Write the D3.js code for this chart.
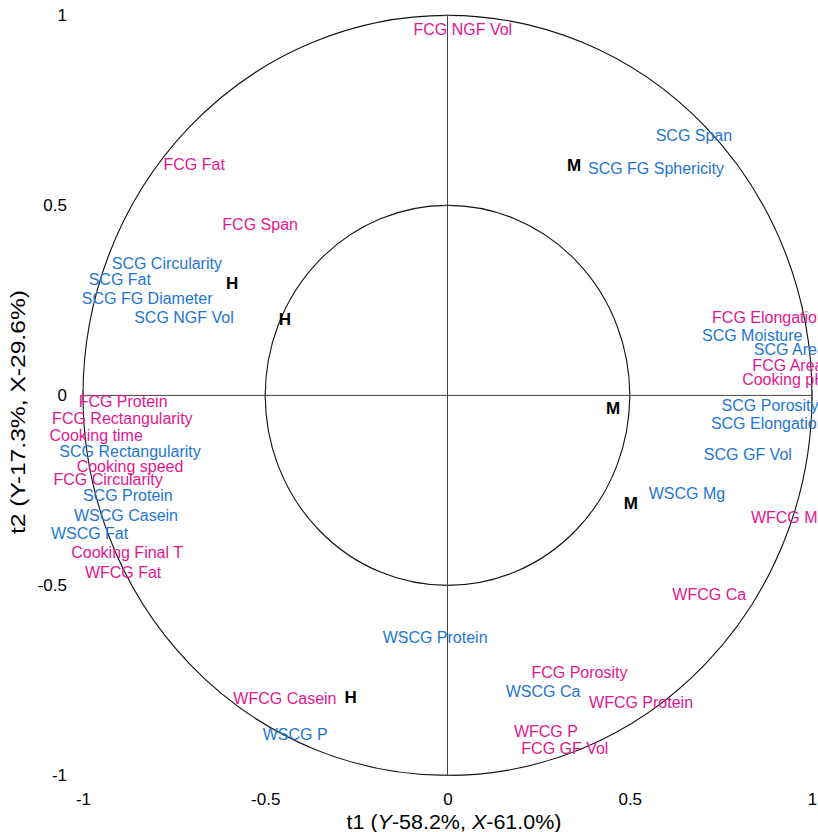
<!DOCTYPE html>
<html>
<head>
<meta charset="utf-8">
<script src="https://cdn.jsdelivr.net/npm/d3@7"></script>
<style>
  html, body { margin: 0; padding: 0; background: #fff; }
  svg { display: block; font-family: "Liberation Sans", Arial, sans-serif; }
</style>
</head>
<body>
<svg id="chart" width="818" height="832"></svg>
<script>
// Correlation circle: variables (t1, t2 loadings) and observations
const varNames = [
  "FCG NGF Vol", "SCG Span", "SCG FG Sphericity", "FCG Fat", "FCG Span",
  "SCG Circularity", "SCG Fat", "SCG FG Diameter", "SCG NGF Vol",
  "FCG Elongation", "SCG Moisture", "SCG Area", "FCG Area", "Cooking pH",
  "SCG Porosity", "SCG Elongation", "SCG GF Vol", "WSCG Mg", "WFCG Mg",
  "WFCG Ca", "WSCG Protein", "FCG Porosity", "WSCG Ca", "WFCG Protein",
  "WFCG P", "FCG GF Vol", "WFCG Casein", "WSCG P",
  "FCG Protein", "FCG Rectangularity", "Cooking time", "SCG Rectangularity",
  "Cooking speed", "FCG Circularity", "SCG Protein", "WSCG Casein",
  "WSCG Fat", "Cooking Final T", "WFCG Fat"
];
const varT1 = [
  0.042, 0.676, 0.572, -0.695, -0.514,
  -0.770, -0.899, -0.824, -0.723,
  0.882, 0.836, 0.939, 0.934, 0.923,
  0.885, 0.880, 0.824, 0.657, 0.936,
  0.718, -0.034, 0.362, 0.262, 0.531,
  0.270, 0.322, -0.446, -0.418,
  -0.890, -0.892, -0.964, -0.871,
  -0.871, -0.931, -0.877, -0.882,
  -0.982, -0.879, -0.890
];
const varT2 = [
  0.962, 0.683, 0.598, 0.609, 0.451,
  0.348, 0.306, 0.254, 0.204,
  0.204, 0.159, 0.120, 0.078, 0.043,
  -0.025, -0.073, -0.154, -0.257, -0.320,
  -0.523, -0.636, -0.730, -0.780, -0.807,
  -0.883, -0.928, -0.797, -0.891,
  -0.015, -0.060, -0.105, -0.147,
  -0.186, -0.220, -0.262, -0.315,
  -0.362, -0.412, -0.465
];
// "F" = FCG / WFCG / cooking variables, "S" = SCG / WSCG variables
const varGroup = [
  "F", "S", "S", "F", "F",
  "S", "S", "S", "S",
  "F", "S", "S", "F", "F",
  "S", "S", "S", "S", "F",
  "F", "S", "F", "S", "F",
  "F", "F", "F", "S",
  "F", "F", "F", "S",
  "F", "F", "S", "S",
  "S", "F", "F"
];

const obsLabels = ["M", "H", "H", "M", "M", "H"];
const obsT1 = [0.347, -0.591, -0.446, 0.454, 0.503, -0.266];
const obsT2 = [0.607, 0.296, 0.201, -0.033, -0.283, -0.793];

const tickValues = [-1, -0.5, 0, 0.5, 1];
const circleRadii = [1, 0.5];
const xTitleParts = [["t1 (", false], ["Y", true], ["-58.2%, ", false], ["X", true], ["-61.0%)", false]];
const yTitle = "t2 (Y-17.3%, X-29.6%)";

const groupColor = { F: "#e2178f", S: "#1e76d3" };

const svg = d3.select("#chart");
const x = d3.scaleLinear().domain([-1, 1]).range([83, 812]);
const y = d3.scaleLinear().domain([-1, 1]).range([775.4, 15.4]);

// reference circles (unit and half)
svg.append("g").selectAll("ellipse")
  .data(circleRadii)
  .join("ellipse")
  .attr("cx", x(0))
  .attr("cy", y(0))
  .attr("rx", r => x(r) - x(0))
  .attr("ry", r => y(0) - y(r))
  .attr("fill", "none")
  .attr("stroke", "#111")
  .attr("stroke-width", 1.1);

// centre cross
const cross = svg.append("g").attr("stroke", "#444").attr("stroke-width", 1);
cross.append("line")
  .attr("x1", x(-1)).attr("x2", x(1))
  .attr("y1", y(0)).attr("y2", y(0));
cross.append("line")
  .attr("x1", x(0)).attr("x2", x(0))
  .attr("y1", y(-1)).attr("y2", y(1));
// small ticks on the cross
cross.selectAll("line.ty")
  .data(tickValues.filter(v => v !== 0))
  .join("line").attr("class", "ty")
  .attr("x1", x(0) - 5).attr("x2", x(0) + 5)
  .attr("y1", d => y(d)).attr("y2", d => y(d));
cross.selectAll("line.tx")
  .data(tickValues.filter(v => v !== 0))
  .join("line").attr("class", "tx")
  .attr("x1", d => x(d)).attr("x2", d => x(d))
  .attr("y1", y(0) - 5).attr("y2", y(0) + 5);

// outer axes (labels only)
const fmt = d => String(d);
const yAxis = svg.append("g")
  .attr("transform", "translate(69,0)")
  .call(d3.axisLeft(y).tickValues(tickValues).tickFormat(fmt).tickSize(0).tickPadding(2));
const xAxis = svg.append("g")
  .attr("transform", "translate(0,791)")
  .call(d3.axisBottom(x).tickValues(tickValues).tickFormat(fmt).tickSize(0).tickPadding(2));
[xAxis, yAxis].forEach(a => {
  a.select(".domain").remove();
  a.selectAll("text")
    .attr("font-family", "'Liberation Sans', Arial, sans-serif")
    .attr("font-size", 17)
    .attr("fill", "#000");
});

// axis titles
const xt = svg.append("text")
  .attr("x", 454).attr("y", 829)
  .attr("text-anchor", "middle")
  .attr("font-size", 20)
  .attr("fill", "#000")
  .attr("textLength", 215)
  .attr("lengthAdjust", "spacingAndGlyphs");
xTitleParts.forEach(([t, it]) => {
  xt.append("tspan").text(t).attr("font-style", it ? "italic" : "normal");
});
svg.append("text")
  .attr("transform", "translate(25,412) rotate(-90)")
  .attr("text-anchor", "middle")
  .attr("font-size", 20)
  .attr("fill", "#000")
  .attr("textLength", 244)
  .attr("lengthAdjust", "spacingAndGlyphs")
  .text(yTitle);

// variable labels
const vars = varNames.map((n, i) => ({ name: n, t1: varT1[i], t2: varT2[i], g: varGroup[i] }));
svg.append("g").selectAll("text")
  .data(vars)
  .join("text")
  .attr("x", d => x(d.t1))
  .attr("y", d => y(d.t2))
  .attr("dy", "0.35em")
  .attr("text-anchor", "middle")
  .attr("font-size", 16)
  .attr("fill", d => groupColor[d.g])
  .text(d => d.name);

// observation labels
const obs = obsLabels.map((l, i) => ({ label: l, t1: obsT1[i], t2: obsT2[i] }));
svg.append("g").selectAll("text")
  .data(obs)
  .join("text")
  .attr("x", d => x(d.t1))
  .attr("y", d => y(d.t2))
  .attr("dy", "0.35em")
  .attr("text-anchor", "middle")
  .attr("font-size", 17)
  .attr("font-weight", "bold")
  .attr("fill", "#000")
  .text(d => d.label);
</script>
</body>
</html>
